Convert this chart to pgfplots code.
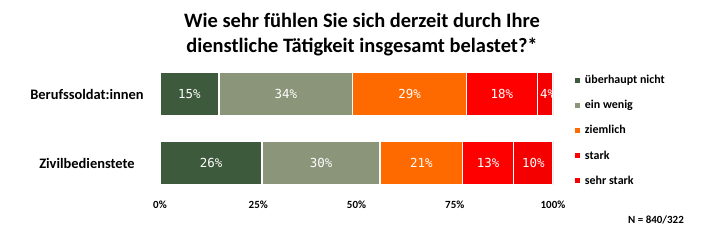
\documentclass[border=0pt]{standalone}
\usepackage{pgfplots}
\pgfplotsset{compat=1.18}
\usepackage{fontspec}
\setmainfont{Carlito}
\newfontfamily\labfont{DejaVu Sans Mono}
\definecolor{dkgreen}{HTML}{3E5A3C}
\definecolor{ltgreen}{HTML}{8B957A}
\definecolor{oran}{HTML}{FF6A00}
\definecolor{redA}{HTML}{FF0000}
\definecolor{redB}{HTML}{F50000}
\begin{document}
\begin{tikzpicture}[x=1bp,y=1bp]
\path[use as bounding box] (0,0) rectangle (727,246);
\node[align=center, font=\fontsize{20.5}{25}\selectfont\bfseries] at (362,211.5) {Wie sehr fühlen Sie sich derzeit durch Ihre\\dienstliche Tätigkeit insgesamt belastet?*};
\begin{axis}[
  at={(160bp,48.5bp)}, anchor=south west,
  scale only axis, width=393bp, height=138bp,
  xmin=0, xmax=100, ymin=-0.5, ymax=1.5,
  xbar stacked, bar width=44bp,
  axis line style={draw=none}, major tick style={draw=none},
  xtick={0,25,50,75,100},
  xticklabels={0\%,25\%,50\%,75\%,100\%},
  xticklabel style={font=\fontsize{11}{13}\selectfont\bfseries, yshift=0bp},
  ytick={0,1}, yticklabels={Zivilbedienstete,Berufssoldat:innen},
  yticklabel style={font=\fontsize{14.5}{17}\selectfont\bfseries, anchor=center, xshift=-73bp},
  /pgf/number format/assume math mode=true,
  legend style={at={(1,1)}, anchor=north west, xshift=22bp, yshift=-13.5bp, draw=none, fill=none,
    font=\fontsize{12}{14}\selectfont\bfseries, row sep=11.3bp, inner sep=0pt,
    legend cell align=left},
  legend image code/.code={\fill[#1, draw=none] (0bp,-2.5bp) rectangle (5bp,2.5bp); \path (7bp,0bp);},
]
\addplot[fill=dkgreen, draw=white, line width=1.5pt] coordinates {(26,0) (15,1)};
\addlegendentry{überhaupt nicht}
\addplot[fill=ltgreen, draw=white, line width=1.5pt] coordinates {(30,0) (34,1)};
\addlegendentry{ein wenig}
\addplot[fill=oran, draw=white, line width=1.5pt] coordinates {(21,0) (29,1)};
\addlegendentry{ziemlich}
\addplot[fill=redA, draw=white, line width=1.5pt] coordinates {(13,0) (18,1)};
\addlegendentry{stark}
\addplot[fill=redB, draw=white, line width=1.5pt] coordinates {(10,0) (4,1)};
\addlegendentry{sehr stark}
\end{axis}
\begin{axis}[
  at={(160bp,48.5bp)}, anchor=south west,
  scale only axis, width=393bp, height=138bp,
  xmin=0, xmax=100, ymin=-0.5, ymax=1.5,
  hide axis,
]
\addplot[draw=none, mark=none, nodes near coords, point meta=explicit symbolic,
  every node near coord/.style={anchor=center, text=white, font=\labfont\fontsize{12.5}{14}\selectfont}]
  table[meta=lab] {
x y lab
7.5 1 15\%
32 1 34\%
63.5 1 29\%
87 1 18\%
98.6 1 4\%
13 0 26\%
41 0 30\%
66.5 0 21\%
83.5 0 13\%
95 0 10\%
};
\end{axis}
\node[font=\fontsize{11}{13}\selectfont\bfseries] at (656,26) {N = 840/322};
\end{tikzpicture}
\end{document}
